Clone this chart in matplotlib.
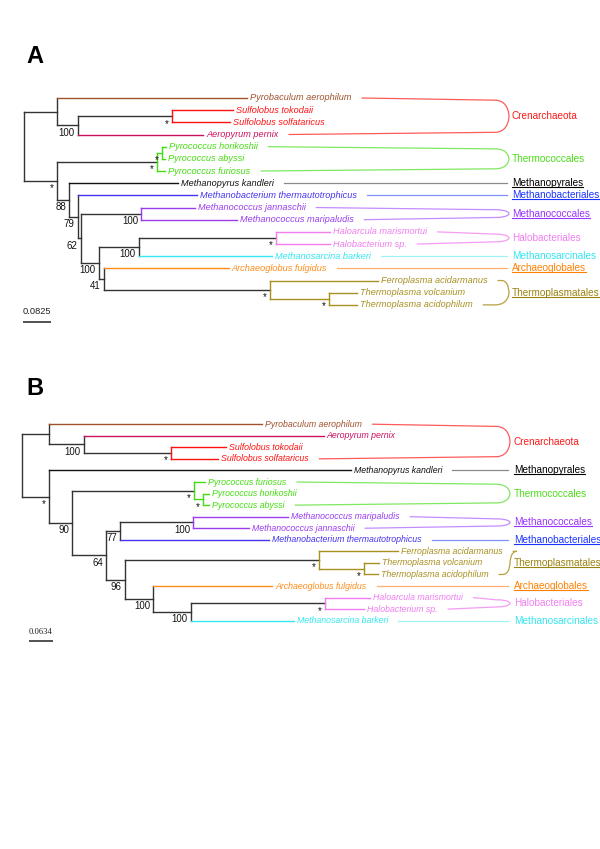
import matplotlib
matplotlib.use("Agg")
import matplotlib.pyplot as plt
from matplotlib.path import Path
from matplotlib.patches import PathPatch

plt.rcParams["font.family"] = ["Liberation Sans", "DejaVu Sans"]

W, H = 600, 849

# trees: branch lengths in substitutions/site, support values as node labels
TREE_A = ("((Pyrobaculum_aerophilum:0.574,((Sulfolobus_tokodaii:0.184,Sulfolobus_solfataricus:0.175)*:0.284,"
          "Aeropyrum_pernix:0.378)100:0.063):0.100,"
          "(((Pyrococcus_horikoshii:0.012,Pyrococcus_abyssi:0.010)*:0.015,Pyrococcus_furiosus:0.025)*:0.302,"
          "(Methanopyrus_kandleri:0.328,(Methanobacterium_thermautotrophicus:0.360,"
          "((Methanococcus_jannaschii:0.161,Methanococcus_maripaludis:0.288)100:0.184,"
          "(((Haloarcula_marismortui:0.163,Halobacterium_sp.:0.163)*:0.414,Methanosarcina_barkeri:0.402)100:0.121,"
          "(Archaeoglobus_fulgidus:0.377,(Ferroplasma_acidarmanus:0.326,"
          "(Thermoplasma_volcanium:0.085,Thermoplasma_acidophilum:0.085)*:0.178)*:0.501)41:0.016)100:0.055)"
          "62:0.009)79:0.025)88:0.037)*:0.100);")
TREE_B = ("((Pyrobaculum_aerophilum:0.569,(Aeropyrum_pernix:0.641,"
          "(Sulfolobus_tokodaii:0.147,Sulfolobus_solfataricus:0.127)*:0.232)100:0.093):0.072,"
          "(Methanopyrus_kandleri:0.806,((Pyrococcus_furiosus:0.030,"
          "(Pyrococcus_horikoshii:0.017,Pyrococcus_abyssi:0.017)*:0.024)*:0.325,"
          "(((Methanococcus_maripaludis:0.254,Methanococcus_jannaschii:0.149)100:0.196,"
          "Methanobacterium_thermautotrophicus:0.399)77:0.037,"
          "((Ferroplasma_acidarmanus:0.211,(Thermoplasma_volcanium:0.041,Thermoplasma_acidophilum:0.038)*:0.119)*:0.520,"
          "(Archaeoglobus_fulgidus:0.319,((Haloarcula_marismortui:0.121,Halobacterium_sp.:0.105)*:0.359,"
          "Methanosarcina_barkeri:0.277)100:0.100)100:0.076)96:0.050)64:0.090)90:0.062)*:0.072);")
SCALE_A = 0.0825
SCALE_B = 0.0634

TAXA = ["Pyrobaculum aerophilum", "Sulfolobus tokodaii", "Sulfolobus solfataricus", "Aeropyrum pernix",
        "Pyrococcus horikoshii", "Pyrococcus abyssi", "Pyrococcus furiosus", "Methanopyrus kandleri",
        "Methanobacterium thermautotrophicus", "Methanococcus jannaschii", "Methanococcus maripaludis",
        "Haloarcula marismortui", "Halobacterium sp.", "Methanosarcina barkeri", "Archaeoglobus fulgidus",
        "Ferroplasma acidarmanus", "Thermoplasma volcanium", "Thermoplasma acidophilum"]
TAXON_COLORS = ["#a0522d", "#ff1010", "#ff1010", "#cc1060",
                "#44dd11", "#44dd11", "#44dd11", "#111111",
                "#4433ee", "#9a3cf0", "#9a3cf0",
                "#f07ef0", "#f07ef0", "#33e8f0", "#ff8c1a",
                "#a89020", "#a89020", "#a89020"]
TAXON_GROUP = ["Crenarchaeota"] * 4 + ["Thermococcales"] * 3 + ["Methanopyrales", "Methanobacteriales"] + \
              ["Methanococcales"] * 2 + ["Halobacteriales"] * 2 + ["Methanosarcinales", "Archaeoglobales"] + \
              ["Thermoplasmatales"] * 3

GROUPS = ["Crenarchaeota", "Thermococcales", "Methanopyrales", "Methanobacteriales", "Methanococcales",
          "Halobacteriales", "Methanosarcinales", "Archaeoglobales", "Thermoplasmatales"]
GROUP_COLORS = ["#ff1a1a", "#4ddd1a", "#000000", "#1a33ff", "#9933ff",
                "#f07ef0", "#33e6f0", "#ff8000", "#9a8210"]
GROUP_LINK_COLORS = ["#ff5a5a", "#80e860", "#8a8a8a", "#8090ff", "#c48cff",
                     "#f59cf5", "#a0f2f5", "#ffb070", "#b8a040"]
GROUP_UNDERLINED = [False, False, True, True, True, False, False, True, True]

BRANCH = "#333333"
LW = 1.0


def parse_newick(text):
    s = text.strip().rstrip(";")
    pos = 0

    def token(stops):
        nonlocal pos
        start = pos
        while pos < len(s) and s[pos] not in stops:
            pos += 1
        return s[start:pos]

    def node():
        nonlocal pos
        kids = []
        if s[pos] == "(":
            pos += 1
            kids.append(node())
            while s[pos] == ",":
                pos += 1
                kids.append(node())
            pos += 1
        label = token(",():")
        length = 0.0
        if pos < len(s) and s[pos] == ":":
            pos += 1
            length = float(token(",()"))
        return {"label": label.replace("_", " "), "len": length, "kids": kids}

    return node()


def place(node, x, leaves):
    node["x"] = x + node["len"]
    if node["kids"]:
        for k in node["kids"]:
            place(k, node["x"], leaves)
        node["y"] = (node["kids"][0]["y"] + node["kids"][-1]["y"]) / 2
    else:
        node["y"] = len(leaves)
        leaves.append(node)


def paint(node):
    if not node["kids"]:
        node["color"] = TAXON_COLORS[TAXA.index(node["label"])]
    else:
        cols = {paint(k) for k in node["kids"]}
        node["color"] = cols.pop() if len(cols) == 1 else BRANCH
    return node["color"]


def draw_branches(ax, node, parent=None, fs=7.0):
    if parent is not None:
        col = node["color"] if (not node["kids"] or parent["color"] == node["color"]) else BRANCH
        ax.plot([parent["x"], node["x"]], [node["y"]] * 2, color=col, lw=LW)
    if node["kids"]:
        ax.plot([node["x"]] * 2, [node["kids"][0]["y"], node["kids"][-1]["y"]], color=node["color"], lw=LW)
        for k in node["kids"]:
            draw_branches(ax, k, node, fs)
        if node["label"]:
            ax.annotate(node["label"], (node["x"], node["y"]), xytext=(-2.2, -5.3),
                        textcoords="offset points", ha="right", va="center", fontsize=fs, color="#111111")


def bracket(ax, xa, ya, xb, yb, xp, yp, w, s, color):
    # rounded ")" joining two label rows at a point on the right
    ka = max(xp - w, xa + 0.3 * w)
    kb = max(xp - w, xb + 0.3 * w)
    sa = s if ka > xa + w else 0
    sb = s if kb > xb + w else 0
    verts = [(xa, ya), (ka, ya + sa),
             (xp, ya + sa), (xp, yp), (xp, yp),
             (xp, yp), (xp, yb - sb), (kb, yb - sb),
             (xb, yb)]
    codes = [Path.MOVETO, Path.LINETO,
             Path.CURVE4, Path.CURVE4, Path.CURVE4,
             Path.CURVE4, Path.CURVE4, Path.CURVE4,
             Path.LINETO]
    ax.add_patch(PathPatch(Path(verts, codes), fc="none", ec=color, lw=0.9))


fig = plt.figure(figsize=(W / 100, H / 100), dpi=100)

# panel layout in figure pixels: root x, first tip row, row height, scale-bar pixels
PANELS = [
    dict(tree=TREE_A, scale=SCALE_A, tag="A", root_px=24, row0_px=98, row_px=12.17, bar_px=27.3,
         tip_fs=6.6, node_fs=7.0, tag_y=57, bar_x=23.3, bar_y=321.7, bar_text_y=312,
         bar_font="Liberation Sans", bar_fs=6.7, label_px=512, peak_px=509),
    dict(tree=TREE_B, scale=SCALE_B, tag="B", root_px=22.3, row0_px=424.2, row_px=11.56, bar_px=23.7,
         tip_fs=6.3, node_fs=6.9, tag_y=388, bar_x=29, bar_y=640.7, bar_text_y=631.7,
         bar_font="Liberation Serif", bar_fs=6.2, label_px=514, peak_px=510),
]

built = []
for p in PANELS:
    sx = p["bar_px"] / p["scale"]
    x0, y0, dy = p["root_px"], p["row0_px"], p["row_px"]
    ax = fig.add_axes([0, 0, 1, 1])
    ax.set_xlim(-x0 / sx, (W - x0) / sx)
    ax.set_ylim((H - y0) / dy, -y0 / dy)
    ax.axis("off")
    ax.patch.set_alpha(0)

    def px_x(v, x0=x0, sx=sx):
        return (v - x0) / sx

    def px_y(v, y0=y0, dy=dy):
        return (v - y0) / dy

    root = parse_newick(p["tree"])
    leaves = []
    place(root, 0.0, leaves)
    paint(root)
    draw_branches(ax, root, None, p["node_fs"])

    tips = {}
    for leaf in leaves:
        tips[leaf["label"]] = ax.annotate(leaf["label"], (leaf["x"], leaf["y"]), xytext=(2.2, 0),
                                          textcoords="offset points", va="center", ha="left",
                                          fontsize=p["tip_fs"], fontstyle="italic", color=leaf["color"])

    glabels = []
    for g, gc in zip(GROUPS, GROUP_COLORS):
        members = [lf for lf in leaves if TAXON_GROUP[TAXA.index(lf["label"])] == g]
        ymid = (members[0]["y"] + members[-1]["y"]) / 2
        t = ax.text(px_x(p["label_px"]), ymid, g, va="center", ha="left", fontsize=7.2, color=gc)
        glabels.append((t, members))

    ax.text(px_x(26), px_y(p["tag_y"]), p["tag"], fontsize=17, fontweight="bold", va="center", ha="left")
    bx = px_x(p["bar_x"])
    ax.plot([bx, bx + p["scale"]], [px_y(p["bar_y"])] * 2, color="#222222", lw=1.1, solid_capstyle="butt")
    ax.text(bx + p["scale"] / 2, px_y(p["bar_text_y"]), f"{p['scale']}", ha="center", va="center",
            fontsize=p["bar_fs"], family=p["bar_font"], color="#222222")
    built.append((ax, p, tips, glabels, px_x, px_y, sx, dy))

fig.canvas.draw()
renderer = fig.canvas.get_renderer()

for ax, p, tips, glabels, px_x, px_y, sx, dy in built:
    inv = ax.transData.inverted()
    for (t, members), lc, under in zip(glabels, GROUP_LINK_COLORS, GROUP_UNDERLINED):
        ends = []
        for m in (members[0], members[-1]):
            bb = tips[m["label"]].get_window_extent(renderer)
            ends.append(inv.transform((bb.x1 + 10, bb.y0))[0])
        if len(members) == 1:
            ax.plot([ends[0], px_x(p["peak_px"] - 2)], [members[0]["y"]] * 2, color=lc, lw=0.9)
        else:
            bracket(ax, ends[0], members[0]["y"], ends[1], members[-1]["y"], px_x(p["peak_px"]),
                    (members[0]["y"] + members[-1]["y"]) / 2, 14 / sx, 2.2 / dy, lc)
        if under:
            bb = t.get_window_extent(renderer)
            (ux0, uy), (ux1, _) = inv.transform([(bb.x0, bb.y0 + 1), (bb.x1, bb.y0 + 1)])
            ax.plot([ux0, ux1], [uy, uy], color=t.get_color(), lw=0.8)

fig.savefig("out.png", dpi=100)
